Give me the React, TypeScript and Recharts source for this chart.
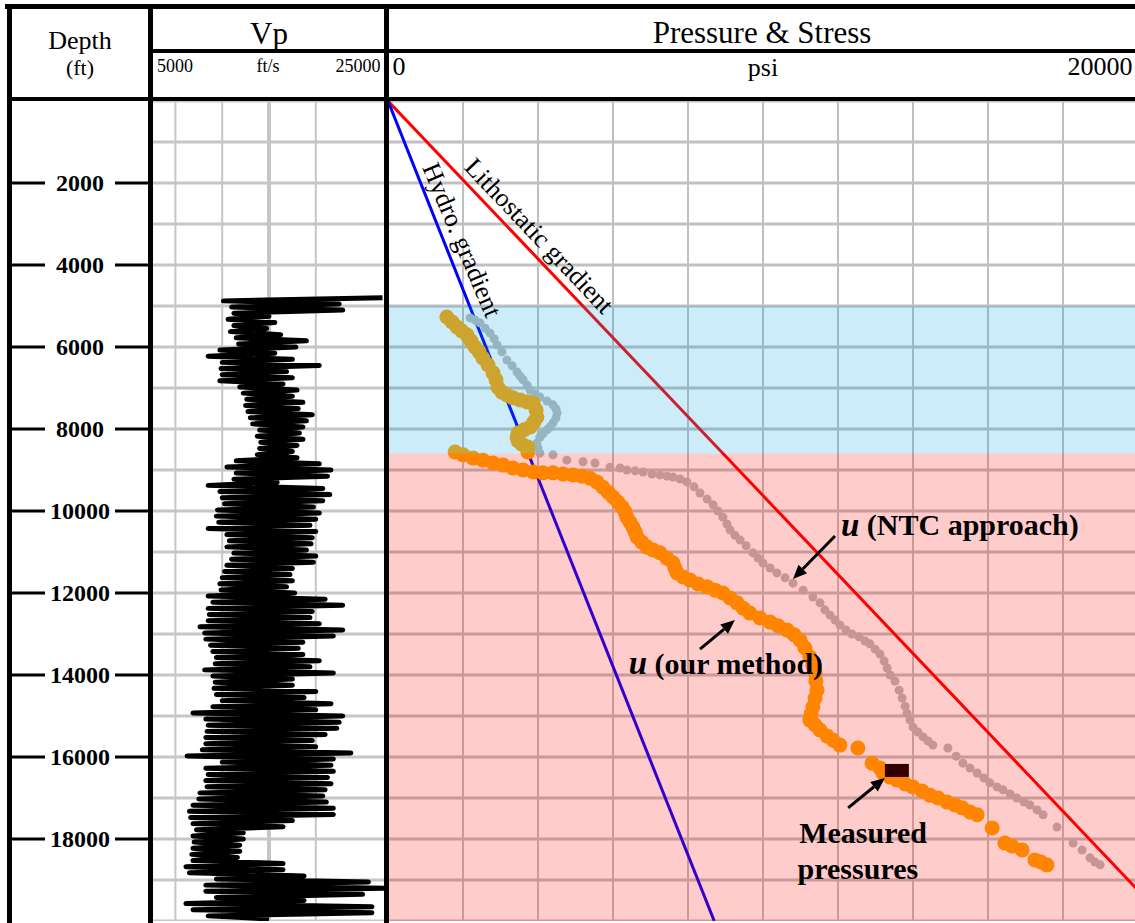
import React from "react";
import {
    ComposedChart,
    Line,
    Scatter,
    XAxis,
    YAxis,
    CartesianGrid,
    ReferenceLine,
    ReferenceArea,
    ReferenceDot,
} from "recharts";

const FONT = '"Liberation Serif", "Times New Roman", serif';

// axis ticks
const depthTicks = [0, 1000, 2000, 3000, 4000, 5000, 6000, 7000, 8000, 9000, 10000, 11000, 12000, 13000, 14000, 15000, 16000, 17000, 18000, 19000, 20000];
const depthLabels = [2000, 4000, 6000, 8000, 10000, 12000, 14000, 16000, 18000];
const vpTicks = [5000, 7000, 9000, 11000, 13000, 15000, 17000, 19000, 21000, 23000, 25000];
const psiTicks = [0, 2000, 4000, 6000, 8000, 10000, 12000, 14000, 16000, 18000, 20000];

// Vp log (ft/s), sampled every 75 ft from 4800 ft
const vpStart = 4800;
const vpStep = 75;
const vpLog = [
    24700, 11100, 21000, 11800, 21300, 12000, 15000, 11500,
    15500, 12000, 14800, 11700, 16000, 12200, 18200, 12400,
    17300, 10800, 15500, 9800, 17000, 11000, 19300, 10900,
    16500, 11000, 17000, 10800, 16200, 12500, 17400, 12800,
    17000, 13100, 17900, 13000, 17500, 13200, 18700, 13400,
    18200, 13600, 17900, 14200, 17600, 14000, 17900, 14300,
    17400, 14200, 17000, 14000, 17400, 12200, 19300, 11400,
    20300, 12200, 20000, 12000, 15700, 9800, 19600, 10800,
    20200, 11000, 19600, 11200, 18800, 10600, 19300, 10500,
    19000, 10700, 18500, 9800, 19000, 11400, 18700, 11600,
    18600, 11400, 18200, 12000, 19000, 11800, 18800, 11400,
    17000, 11200, 16800, 11000, 17000, 10800, 16500, 10900,
    17200, 9800, 19800, 10200, 21300, 9800, 18700, 9900,
    18500, 9800, 19300, 9100, 21300, 9500, 20500, 9600,
    17900, 10000, 17500, 10200, 17900, 10500, 19300, 10400,
    18500, 9500, 20500, 10200, 17000, 10400, 17000, 10300,
    19000, 10500, 18000, 11000, 20300, 10200, 19000, 8500,
    21300, 9600, 21000, 9800, 20800, 9700, 19800, 9600,
    18700, 9600, 19000, 9300, 22000, 8000, 20500, 11000,
    20300, 9600, 20500, 9800, 20000, 9600, 20300, 9700,
    19800, 9100, 19600, 9000, 19900, 8500, 20500, 8200,
    20500, 8300, 17000, 8500, 16200, 8800, 12800, 8500,
    12800, 8600, 12500, 8500, 12500, 8400, 12300, 8500,
    16200, 7900, 16200, 8200, 18000, 10500, 23500, 9600,
    24800, 9600, 23000, 10500, 18000, 7900, 23800, 8500,
    23800, 9800, 15000,
];

// pore pressure, [psi, depth ft]
const ourMethod = [
    [1570, 5270], [1710, 5390], [1840, 5510], [1970, 5610], [2110, 5710], [2210, 5850], [2320, 6000], [2430, 6120],
    [2530, 6270], [2670, 6440], [2800, 6630], [2880, 6800], [2930, 6980], [3040, 7100], [3170, 7170], [3330, 7240],
    [3520, 7290], [3710, 7340], [3870, 7370], [3950, 7540], [3970, 7710], [3890, 7830], [3790, 7950], [3630, 8020],
    [3470, 8100], [3440, 8200], [3470, 8290], [3570, 8370], [3730, 8440], [3730, 8560],
    [1790, 8560], [2000, 8630], [2270, 8710], [2530, 8760], [2800, 8830], [3070, 8880], [3330, 8950], [3600, 9000],
    [3870, 9050], [4130, 9070], [4400, 9070], [4670, 9100], [4930, 9120], [5170, 9150], [5390, 9200], [5570, 9290],
    [5730, 9420], [5870, 9540], [6000, 9660], [6130, 9780], [6240, 9900], [6320, 10020], [6370, 10150], [6450, 10270],
    [6530, 10390], [6590, 10510], [6640, 10630], [6770, 10760], [6910, 10880], [7070, 10950], [7250, 11020], [7440, 11150],
    [7600, 11270], [7650, 11390], [7710, 11510], [7870, 11610], [8050, 11680], [8270, 11780], [8510, 11850], [8720, 11930],
    [8930, 12000], [9120, 12120], [9310, 12240], [9470, 12370], [9650, 12490], [9920, 12610], [10190, 12710], [10400, 12800],
    [10640, 12900], [10830, 13020], [10990, 13150], [11120, 13340], [11250, 13560], [11330, 13760], [11390, 13950], [11410, 14150],
    [11440, 14370], [11390, 14560], [11330, 14780], [11280, 14950], [11250, 15100], [11390, 15220], [11520, 15340], [11710, 15490],
    [11870, 15590], [12050, 15710], [12530, 15780], [12910, 16150], [13120, 16270], [13200, 16390], [13390, 16490], [13570, 16560],
    [13790, 16660], [14000, 16730], [14240, 16830], [14450, 16930], [14670, 17000], [14910, 17100], [15120, 17170], [15310, 17240],
    [15520, 17340], [15710, 17410], [16110, 17730], [16450, 18100], [16640, 18170], [16910, 18270], [17250, 18510], [17410, 18560],
    [17570, 18630],
];

const ntcApproach = [
    [2190, 5290], [2320, 5340], [2450, 5410], [2590, 5540], [2720, 5660], [2830, 5800], [2910, 5950], [3040, 6120],
    [3170, 6320], [3310, 6460], [3440, 6610], [3520, 6710], [3600, 6800], [3710, 6930], [3790, 7050], [3920, 7150],
    [4050, 7220], [4240, 7320], [4400, 7410], [4480, 7510], [4510, 7610], [4480, 7730], [4400, 7850], [4320, 7950],
    [4240, 8020], [4130, 8120], [4050, 8200], [3970, 8340], [4000, 8460], [4050, 8590],
    [4400, 8630], [4770, 8760], [5200, 8800], [5520, 8830], [5920, 8930], [6190, 8950], [6370, 9000], [6590, 9020],
    [6800, 9050], [7040, 9100], [7250, 9120], [7440, 9150], [7600, 9170], [7790, 9220], [7970, 9290], [8160, 9410],
    [8320, 9560], [8510, 9710], [8670, 9850], [8800, 10000], [8930, 10150], [9040, 10320], [9120, 10460], [9250, 10590],
    [9390, 10710], [9550, 10850], [9730, 11020], [9870, 11150], [10000, 11270], [10190, 11390], [10370, 11510], [10590, 11630],
    [10800, 11760], [11070, 11930], [11330, 12100], [11520, 12240], [11650, 12410], [11790, 12540], [11920, 12660], [12050, 12780],
    [12210, 12900], [12370, 13000], [12560, 13070], [12720, 13170], [12850, 13240], [12990, 13370], [13120, 13490], [13230, 13660],
    [13310, 13830], [13390, 14000], [13520, 14150], [13630, 14370], [13710, 14560], [13790, 14760], [13840, 14930], [13920, 15100],
    [14000, 15270], [14130, 15390], [14270, 15510], [14400, 15610], [14530, 15710], [14930, 15780], [15150, 15980], [15330, 16150],
    [15520, 16270], [15710, 16390], [15890, 16510], [16050, 16630], [16240, 16730], [16400, 16800], [16590, 16900], [16770, 17000],
    [16960, 17100], [17120, 17170], [17310, 17290], [17470, 17410], [17840, 17710], [18270, 18100], [18510, 18270], [18720, 18460],
    [18850, 18560], [18990, 18630],
];

const measuredPressures = [[13570, 16340]];

// gradients, [psi, depth ft]
const lithostatic = [[0, 0], [20000, 19250]];
const hydrostatic = [[0, 0], [8700, 20000]];

// depth zones (ft)
const normalZone = [5000, 8600];
const overpressureZone = [8600, 20000];

const vpData = vpLog.map((vp, i) => ({ depth: vpStart + i * vpStep, vp }));
const toPoints = (rows: number[][]) => rows.map(([p, d]) => ({ p, d }));
const toSegment = (rows: number[][]) => rows.map(([p, d]) => ({ x: p, y: d }));

const DepthTick = (props: any) => {
    const { y, payload } = props;
    if (!depthLabels.includes(payload.value)) return <g />;
    return (
        <g>
            <line x1={12} x2={45} y1={y} y2={y} stroke="#000" strokeWidth={3} />
            <text x={80} y={y} textAnchor="middle" dominantBaseline="central" fontFamily={FONT} fontWeight="bold" fontSize={24} fill="#000">
                {payload.value}
            </text>
            <line x1={115} x2={152} y1={y} y2={y} stroke="#000" strokeWidth={3} />
        </g>
    );
};

const Arrow = (props: any) => {
    const { x1, y1, x2, y2 } = props;
    const a = Math.atan2(y2 - y1, x2 - x1);
    const len = 14;
    const half = 6;
    const bx = x2 - len * Math.cos(a);
    const by = y2 - len * Math.sin(a);
    const px = -Math.sin(a) * half;
    const py = Math.cos(a) * half;
    return (
        <g>
            <line x1={x1} y1={y1} x2={bx} y2={by} stroke="#000" strokeWidth={3} />
            <polygon points={`${x2},${y2} ${bx + px},${by + py} ${bx - px},${by - py}`} fill="#000" />
        </g>
    );
};

const rotated = (label: string, angle: number) => (props: any) => (
    <text
        x={props.cx}
        y={props.cy}
        transform={`rotate(${angle} ${props.cx} ${props.cy})`}
        textAnchor="middle"
        dominantBaseline="central"
        fontFamily={FONT}
        fontSize={26}
        fill="#000"
    >
        {label}
    </text>
);

const boldNote = (label: string, italicU: boolean) => (props: any) => (
    <text x={props.cx} y={props.cy} textAnchor="middle" dominantBaseline="central" fontFamily={FONT} fontWeight="bold" fontSize={30} fill="#000">
        {italicU && <tspan fontStyle="italic" fontSize={33}>u</tspan>}
        {label}
    </text>
);

const header = (text: string, x: number, y: number, size: number) => (
    <div
        style={{
            position: "absolute",
            left: x,
            top: y,
            transform: "translate(-50%, -50%)",
            fontSize: size,
            lineHeight: 1,
            whiteSpace: "nowrap",
            fontFamily: FONT,
            color: "#000",
        }}
    >
        {text}
    </div>
);

const bar = (left: number, top: number, width: number, height: number) => (
    <div style={{ position: "absolute", left, top, width, height, background: "#000" }} />
);

export default function App() {
    return (
        <div style={{ position: "absolute", left: 0, top: 0, width: 1135, height: 923, overflow: "hidden", background: "#fff" }}>
            {/* depth + Vp track */}
            <div style={{ position: "absolute", left: 0, top: 101 }}>
                <ComposedChart layout="vertical" width={386} height={820} data={vpData} margin={{ top: 0, right: 0, bottom: 0, left: 0 }}>
                    <CartesianGrid stroke="#c6c6c6" strokeWidth={3} vertical={false} />
                    <CartesianGrid stroke="#c6c6c6" strokeWidth={2} horizontal={false} />
                    <XAxis type="number" domain={[5000, 25000]} ticks={vpTicks} hide />
                    <YAxis
                        type="number"
                        dataKey="depth"
                        domain={[0, 20000]}
                        ticks={depthTicks}
                        interval={0}
                        width={152}
                        axisLine={false}
                        tickLine={false}
                        tick={<DepthTick />}
                    />
                    <ReferenceLine x={15000} stroke="#c6c6c6" strokeWidth={4} />
                    <Line dataKey="vp" stroke="#000" strokeWidth={5} strokeLinejoin="round" dot={false} isAnimationActive={false} />
                </ComposedChart>
            </div>

            {/* pressure & stress track */}
            <div style={{ position: "absolute", left: 388, top: 101 }}>
                <ComposedChart width={750} height={820} margin={{ top: 0, right: 0, bottom: 0, left: 0 }}>
                    <CartesianGrid stroke="#c0c0c0" strokeWidth={3} vertical={false} />
                    <CartesianGrid stroke="#c0c0c0" strokeWidth={2} horizontal={false} />
                    <XAxis type="number" dataKey="p" domain={[0, 20000]} ticks={psiTicks} hide />
                    <YAxis type="number" dataKey="d" domain={[0, 20000]} ticks={depthTicks} reversed hide />
                    <ReferenceLine segment={toSegment(lithostatic)} stroke="#ff0000" strokeWidth={3} />
                    <ReferenceLine segment={toSegment(hydrostatic)} stroke="#0000ff" strokeWidth={3} />
                    <Scatter
                        name="u (NTC approach)"
                        data={toPoints(ntcApproach)}
                        isAnimationActive={false}
                        shape={(p: any) => <circle cx={p.cx} cy={p.cy} r={4.5} fill="#bbbbbb" />}
                    />
                    <Scatter
                        name="u (our method)"
                        data={toPoints(ourMethod)}
                        isAnimationActive={false}
                        shape={(p: any) => <circle cx={p.cx} cy={p.cy} r={7.5} fill="#ffa500" />}
                    />
                    <Scatter
                        name="Measured pressures"
                        data={toPoints(measuredPressures)}
                        isAnimationActive={false}
                        shape={(p: any) => <rect x={p.cx - 12} y={p.cy - 7} width={24} height={13} fill="#000" />}
                    />
                    <ReferenceArea y1={normalZone[0]} y2={normalZone[1]} fill="#00a0e6" fillOpacity={0.2} stroke="none" zIndex={700} />
                    <ReferenceArea y1={overpressureZone[0]} y2={overpressureZone[1]} fill="#ff0000" fillOpacity={0.2} stroke="none" zIndex={700} />

                    <ReferenceDot x={4030} y={3290} r={0} zIndex={900} shape={rotated("Lithostatic gradient", 46.5)} />
                    <ReferenceDot x={1970} y={3390} r={0} zIndex={900} shape={rotated("Hydro. gradient", 67)} />
                    <ReferenceDot x={15250} y={10340} r={0} zIndex={900} shape={boldNote(" (NTC approach)", true)} />
                    <ReferenceDot x={9010} y={13710} r={0} zIndex={900} shape={boldNote(" (our method)", true)} />
                    <ReferenceDot x={12670} y={17830} r={0} zIndex={900} shape={boldNote("Measured", false)} />
                    <ReferenceDot x={12530} y={18730} r={0} zIndex={900} shape={boldNote("pressures", false)} />
                    <ReferenceLine segment={[{ x: 11920, y: 10610 }, { x: 10800, y: 11660 }]} zIndex={900} shape={Arrow} />
                    <ReferenceLine segment={[{ x: 8320, y: 13370 }, { x: 9250, y: 12660 }]} zIndex={900} shape={Arrow} />
                    <ReferenceLine segment={[{ x: 12270, y: 17240 }, { x: 13250, y: 16510 }]} zIndex={900} shape={Arrow} />
                </ComposedChart>
            </div>

            {/* header texts */}
            {header("Depth", 80, 41, 26)}
            {header("(ft)", 80, 68, 22)}
            {header("Vp", 269, 33, 31)}
            {header("5000", 175, 66, 18)}
            {header("ft/s", 268, 66, 18)}
            {header("25000", 358, 66, 18)}
            {header("Pressure & Stress", 762, 32, 31)}
            {header("0", 399, 67, 26)}
            {header("psi", 763, 68, 26)}
            {header("20000", 1100, 67, 26)}

            {/* frame */}
            {bar(5, 4, 1130, 5)}
            {bar(7, 4, 5, 919)}
            {bar(148, 4, 5, 919)}
            {bar(384, 4, 5, 919)}
            {bar(150, 49, 985, 4)}
            {bar(7, 97, 1128, 4)}
        </div>
    );
}
